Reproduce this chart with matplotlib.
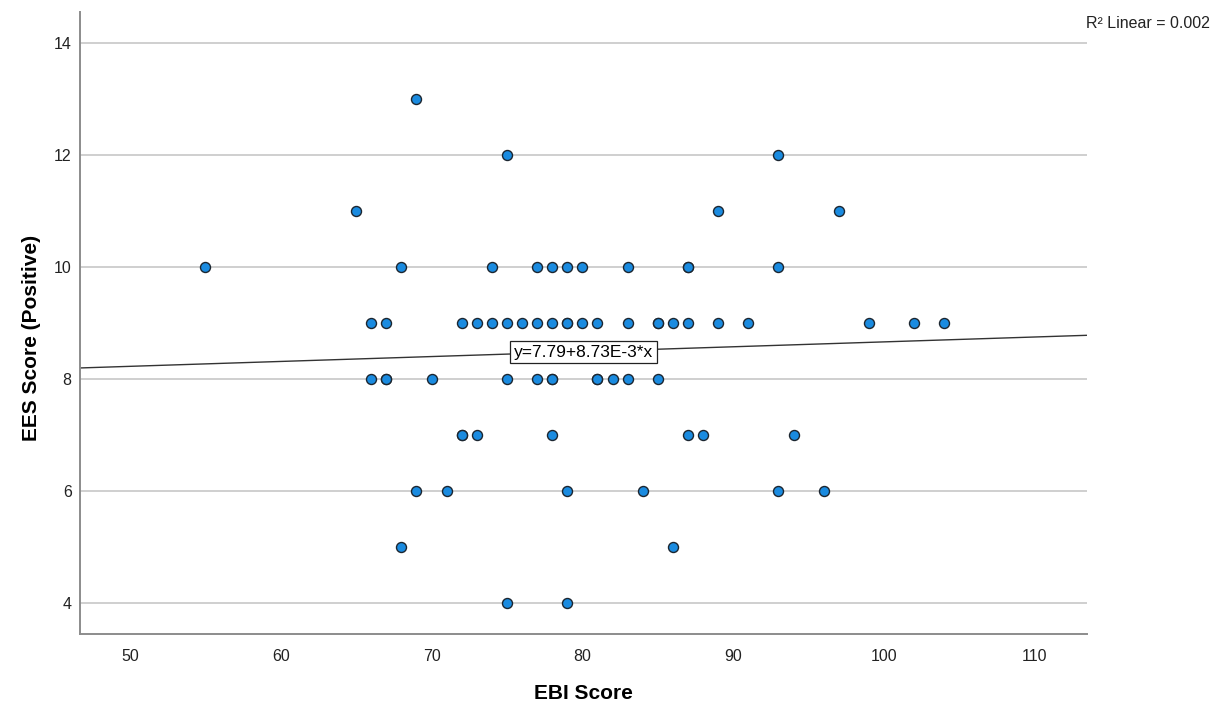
import numpy as np
import matplotlib.pyplot as plt

plt.rcParams['font.family'] = ['Liberation Sans', 'DejaVu Sans']

# EBI score (x) and EES positive score (y)
ebi = [69,
       75, 93,
       65, 89, 97,
       55, 68, 74, 77, 78, 79, 80, 83, 87, 87, 93,
       66, 67, 72, 73, 74, 75, 76, 77, 78, 79, 79, 80, 81, 83, 85, 85, 86,
       87, 89, 91, 99, 102, 104,
       66, 67, 67, 70, 75, 77, 78, 78, 81, 81, 82, 83, 85,
       72, 72, 73, 78, 87, 88, 94,
       69, 71, 79, 84, 93, 96,
       68, 86,
       75, 79]
ees = ([13] + [12] * 2 + [11] * 3 + [10] * 11 + [9] * 23 + [8] * 13
       + [7] * 7 + [6] * 6 + [5] * 2 + [4] * 2)

# fit as reported on the chart
intercept = 7.79
slope = 8.73e-3
r2_text = "R\u00b2 Linear = 0.002"
fit_text = "y=7.79+8.73E-3*x"

x_ticks = [50, 60, 70, 80, 90, 100, 110]
y_ticks = [4, 6, 8, 10, 12, 14]
xlim = (46.7, 113.45)
ylim = (3.45, 14.55)


def main():
    fig = plt.figure(figsize=(12.16, 7.04), dpi=100)
    ax = fig.add_axes([0.0658, 0.0994, 0.8281, 0.8836])

    ax.set_xlim(*xlim)
    ax.set_ylim(*ylim)
    ax.set_xticks(x_ticks)
    ax.set_yticks(y_ticks)

    ax.grid(axis='y', color='#cfcfcf', linewidth=1.4, zorder=0)
    ax.grid(axis='x', visible=False)

    for s in ['top', 'right']:
        ax.spines[s].set_visible(False)
    for s in ['left', 'bottom']:
        ax.spines[s].set_color('#8c8c8c')
        ax.spines[s].set_linewidth(1.4)

    ax.tick_params(axis='both', length=0, labelsize=11.5, colors='#222222')
    ax.tick_params(axis='x', pad=11)
    ax.tick_params(axis='y', pad=6)

    # regression line over the whole x range
    xl = np.array(xlim)
    ax.plot(xl, intercept + slope * xl, color='#333333', linewidth=1.0,
            zorder=2, solid_capstyle='butt')

    ax.scatter(ebi, ees, s=52, color='#1a8be0', edgecolors='#1c2630',
               linewidths=1.0, zorder=3)

    ax.text(80.07, 8.48, fit_text, fontsize=12.5, ha='center', va='center',
            zorder=4,
            bbox=dict(boxstyle='square,pad=0.22', facecolor='white',
                      edgecolor='#222222', linewidth=0.9))

    ax.set_xlabel("EBI Score", fontsize=15, fontweight='bold')
    ax.set_ylabel("EES Score (Positive)", fontsize=15, fontweight='bold')
    ax.xaxis.set_label_coords(0.5, -0.081)
    ax.yaxis.set_label_coords(-0.039, 0.476)

    fig.text(1210 / 1216, 1 - 24 / 704, r2_text, fontsize=11.5,
             ha='right', va='center', color='#222222')

    fig.savefig("out.png", dpi=100)


if __name__ == "__main__":
    main()
